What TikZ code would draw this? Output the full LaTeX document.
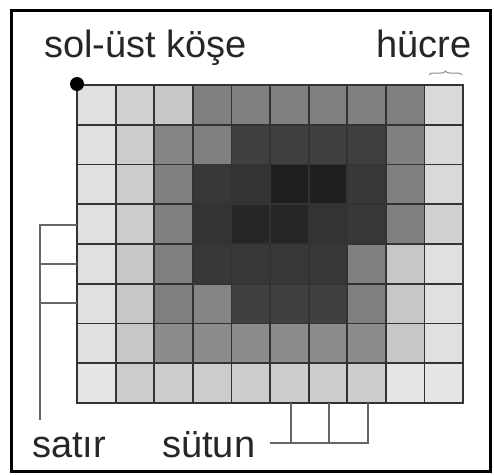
\documentclass[tikz,border=0pt]{standalone}
\usepackage{fontspec}
\setmainfont{Liberation Sans}
\usetikzlibrary{decorations.pathreplacing}
\begin{document}
\begin{tikzpicture}[x=1pt,y=-1pt,
  lbl/.style={font=\fontsize{38}{40}\selectfont, text=black!85, inner sep=0pt, anchor=base west},
  gridln/.style={draw=black!80, line width=1.8pt},
  gridborder/.style={draw=black!80, line width=2.6pt},
  brk/.style={draw=black!60, line width=2pt},
  frame/.style={draw=black, line width=3.5pt}]
\useasboundingbox (0,0) rectangle (494,474);
\fill[white] (0,0) rectangle (494,474);
\def\cw{38.6}
\def\ch{39.75}
% cells
\foreach \row [count=\r from 0] in {
  {12,18,22,50,50,50,50,50,50,15},
  {12,20,48,50,75,75,75,75,50,15},
  {12,20,50,78,80,88,88,78,50,15},
  {12,20,50,80,85,85,80,78,50,18},
  {12,22,50,78,78,78,78,50,22,12},
  {12,22,50,48,75,75,75,50,22,12},
  {12,22,45,45,45,45,45,45,22,12},
  {10,20,20,20,20,20,20,20,10,10}}{
  \foreach \v [count=\c from 0] in \row {
    \fill[black!\v] (77+\c*\cw, 85+\r*\ch) rectangle ++(\cw,\ch);
  }
}
% grid lines
\foreach \i in {1,...,9} \draw[gridln] (77+\i*\cw,85) -- (77+\i*\cw,403);
\foreach \j in {1,...,7} \draw[gridln] (77,85+\j*\ch) -- (463,85+\j*\ch);
\draw[gridborder] (77,85) rectangle (463,403);
% corner dot
\node[circle, fill=black, minimum size=14pt, inner sep=0pt] (corner) at (77,84) {};
% labels
\node[lbl] (solust) at (44,57) {sol-üst köşe};
\node[lbl] (hucre) at (376,57) {hücre};
\node[lbl] (satir) at (32,457) {satır};
\node[lbl] (sutun) at (162,457) {sütun};
% cell brace
\coordinate (bl) at (429,75);
\coordinate (br) at (462,75);
\draw[decorate, decoration={brace, amplitude=4pt}, draw=black!45, line width=1pt] (bl) -- (br);
% row bracket
\coordinate (ra) at (77,225);
\coordinate (rb) at (77,264);
\coordinate (rc) at (77,303);
\coordinate (ral) at (40,225);
\coordinate (rbl) at (40,264);
\coordinate (rcl) at (40,303);
\coordinate (rend) at (40,420);
\draw[brk] (ra) -- (ral) -- (rend);
\draw[brk] (rb) -- (rbl);
\draw[brk] (rc) -- (rcl);
% column bracket
\coordinate (ca) at (291,403);
\coordinate (cb) at (329,403);
\coordinate (cc) at (368,403);
\coordinate (cab) at (291,443);
\coordinate (cbb) at (329,443);
\coordinate (ccb) at (368,443);
\coordinate (cend) at (270,443);
\draw[brk] (ca) -- (cab);
\draw[brk] (cb) -- (cbb);
\draw[brk] (cc) -- (ccb) -- (cend);
% frame
\draw[frame] (11.5,10.5) rectangle (490.5,471.5);
\end{tikzpicture}
\end{document}
